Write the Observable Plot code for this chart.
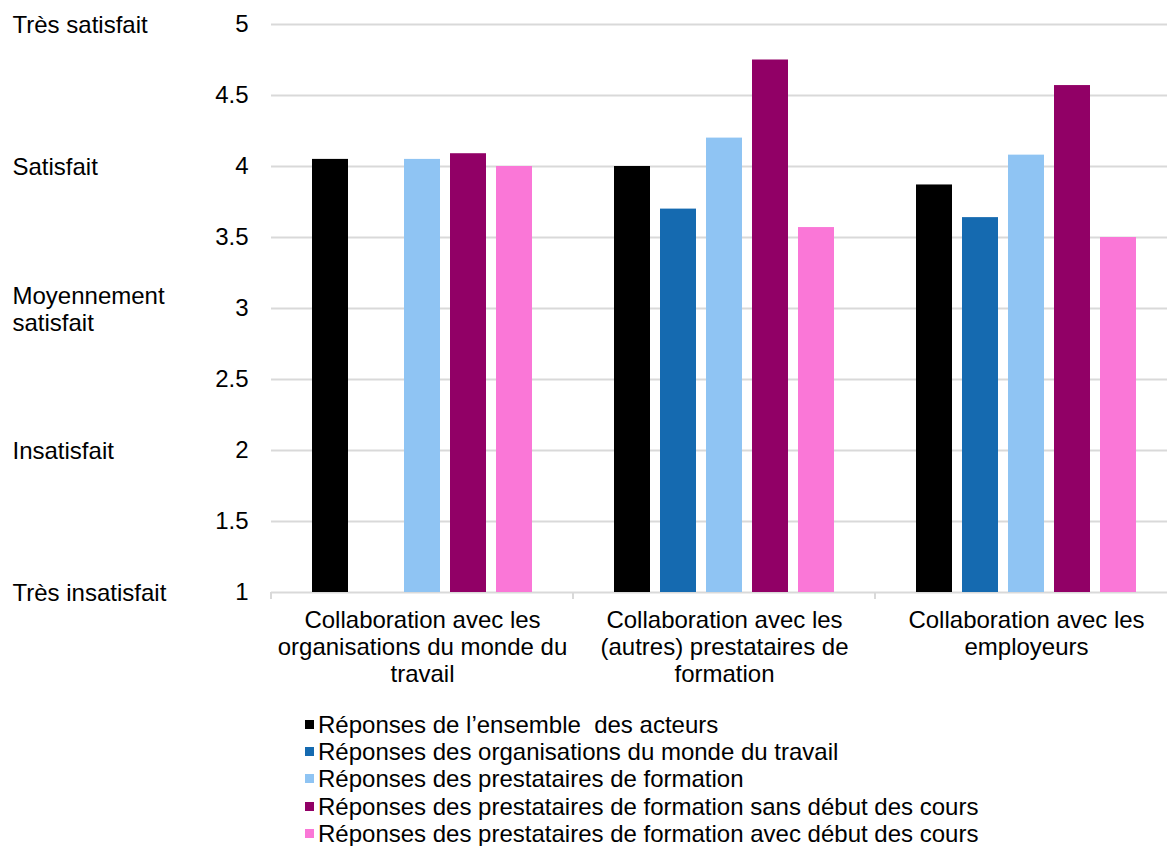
<!DOCTYPE html>
<html><head><meta charset="utf-8">
<script src="https://cdn.jsdelivr.net/npm/d3@7"></script>
<script src="https://cdn.jsdelivr.net/npm/@observablehq/plot@0.6"></script>
<style>
body{margin:0;background:#fff;overflow:hidden;font-family:"Liberation Sans",Arial,sans-serif;}
#legend{padding-left:305px;font-size:24px;line-height:27.2px;color:#000;margin-top:1px}
.item{display:flex;align-items:center;white-space:pre;height:27.2px}
.sw{width:9px;height:9px;margin-right:4px;flex:none}
</style></head><body><div id="chart"></div><div id="legend"></div>
<script>
const categories = [
  "Collaboration avec les\norganisations du monde du\ntravail",
  "Collaboration avec les\n(autres) prestataires de\nformation",
  "Collaboration avec les\nemployeurs"
];
const series = [
  "Réponses de l’ensemble  des acteurs",
  "Réponses des organisations du monde du travail",
  "Réponses des prestataires de formation",
  "Réponses des prestataires de formation sans début des cours",
  "Réponses des prestataires de formation avec début des cours"
];
const colors = ["#000000", "#156ab0", "#8fc4f3", "#910066", "#fa77d7"];
const valuesEnsemble      = [4.05, 4.00, 3.87];
const valuesOrganisations = [null, 3.70, 3.64];
const valuesPrestataires  = [4.05, 4.20, 4.08];
const valuesSansDebut     = [4.09, 4.75, 4.57];
const valuesAvecDebut     = [4.00, 3.57, 3.50];
const yTicks = [1, 1.5, 2, 2.5, 3, 3.5, 4, 4.5, 5];
const levelTicks = [5, 4, 3, 2, 1];
const levelLabels = ["Très satisfait", "Satisfait", "Moyennement\nsatisfait", "Insatisfait", "Très insatisfait"];

const allValues = [valuesEnsemble, valuesOrganisations, valuesPrestataires, valuesSansDebut, valuesAvecDebut];
const rows = [];
categories.forEach((c, i) => series.forEach((s, j) => {
  const v = allValues[j][i];
  if (v != null) rows.push({category: c, series: s, value: v});
}));

const font = '"Liberation Sans", Arial, sans-serif';

const separators = (index, scales, values, dims) => {
  const g = d3.create("svg:g");
  let x0 = dims.marginLeft;
  if (scales.x && typeof scales.x.range === "function") x0 = scales.x.range()[0];
  const yb = scales.y ? scales.y(1) : dims.height - dims.marginBottom;
  g.append("line").attr("x1", x0).attr("x2", x0).attr("y1", yb).attr("y2", yb + 7)
    .attr("stroke", "#d9d9d9").attr("stroke-width", 2);
  return g.node();
};

const chart = Plot.plot({
  width: 1167, height: 710,
  marginTop: 24, marginBottom: 118, marginLeft: 271, marginRight: -10,
  style: {fontFamily: font, fontSize: "24px", color: "#000", background: "#fff", overflow: "hidden"},
  fx: {domain: categories, padding: 0, axis: null},
  x: {domain: series, paddingInner: 0.22, paddingOuter: 0.86, axis: null},
  y: {domain: [1, 5], axis: null},
  color: {domain: series, range: colors},
  marks: [
    Plot.gridY(yTicks, {stroke: "#d9d9d9", strokeOpacity: 1, strokeWidth: 2}),
    Plot.barY(rows, {fx: "category", x: "series", y1: 1, y2: "value", fill: "series"}),
    Plot.axisY(yTicks, {tickSize: 0, tickPadding: 23, fontSize: 24, label: null, tickFormat: d => String(d)}),
    Plot.axisY(levelTicks, {tickSize: 0, tickPadding: 259, textAnchor: "start", fontSize: 24, label: null,
      lineHeight: 1.125, tickFormat: d => levelLabels[levelTicks.indexOf(d)]}),
    Plot.axisFx({anchor: "bottom", tickSize: 0, tickPadding: 16, fontSize: 24, label: null, lineHeight: 1.125, tickFormat: d => d}),
    separators
  ]
});
document.getElementById("chart").appendChild(chart);

const legend = d3.select("#legend");
series.forEach((s, j) => {
  const item = legend.append("div").attr("class", "item");
  item.append("span").attr("class", "sw").style("background", colors[j]);
  item.append("span").text(s);
});
</script>
</body></html>
